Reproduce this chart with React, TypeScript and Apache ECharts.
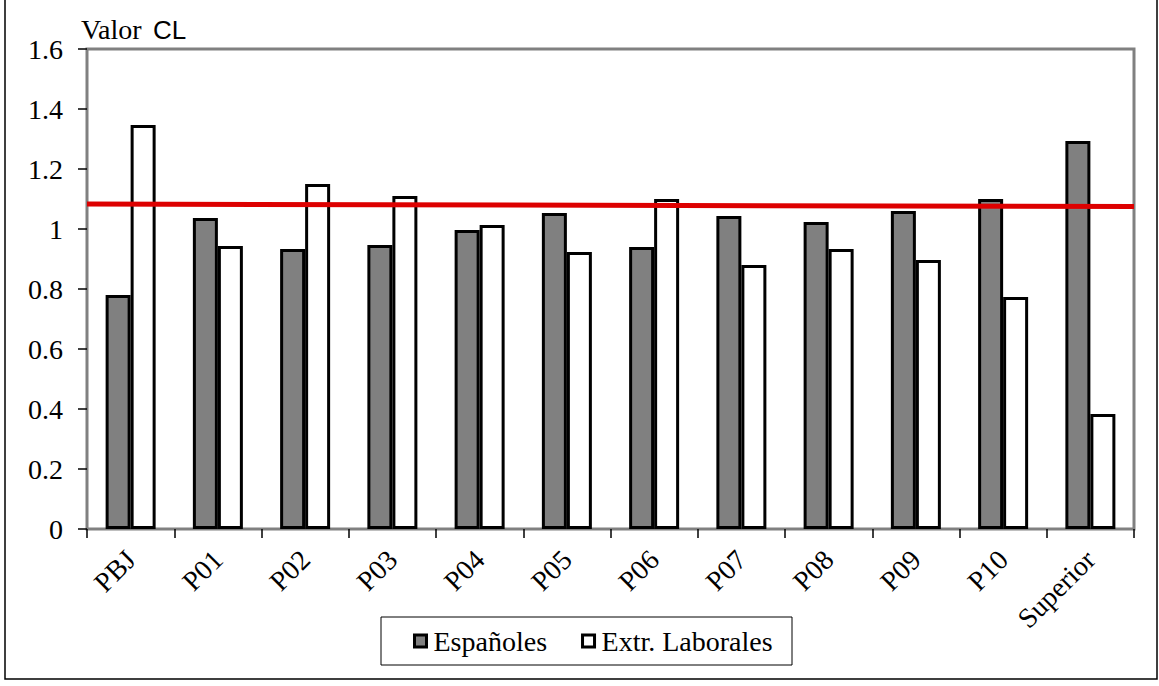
import React, { useEffect, useRef } from "react";
import * as echarts from "echarts";

const categories = ["PBJ", "P01", "P02", "P03", "P04", "P05", "P06", "P07", "P08", "P09", "P10", "Superior"];
const espanoles = [0.78, 1.037, 0.933, 0.947, 0.997, 1.053, 0.94, 1.043, 1.023, 1.06, 1.1, 1.293];
const extrLaborales = [1.347, 0.943, 1.15, 1.11, 1.013, 0.923, 1.1, 0.88, 0.933, 0.897, 0.773, 0.383];
const referenceLine = [[0, 1.083], [1, 1.075]];
const yTicks = { min: 0, max: 1.6, interval: 0.2 };

const SERIF = "Liberation Serif";

export default function App() {
  const ref = useRef<HTMLDivElement>(null);
  useEffect(() => {
    if (!ref.current) return;
    const chart = echarts.init(ref.current, undefined, { renderer: "svg" });
    chart.setOption({
      animation: false,
      backgroundColor: "#ffffff",
      grid: {
        left: 87,
        right: 25,
        top: 49,
        bottom: 157,
        show: true,
        borderColor: "#808080",
        borderWidth: 3,
        backgroundColor: "transparent",
      },
      legend: {
        left: 413,
        top: 627,
        padding: 0,
        itemWidth: 12,
        itemHeight: 12,
        itemGap: 34,
        icon: "rect",
        textStyle: { fontFamily: SERIF, fontSize: 28, color: "#000", padding: [0, 0, 0, 2] },
        data: [
          { name: "Españoles", itemStyle: { color: "#808080", borderColor: "#000", borderWidth: 3 } },
          { name: "Extr. Laborales", itemStyle: { color: "#ffffff", borderColor: "#000", borderWidth: 3 } },
        ],
      },
      xAxis: [
        {
          type: "category",
          data: categories,
          axisLine: { show: false },
          axisTick: { show: true, length: 9, lineStyle: { color: "#000", width: 1.5 } },
          axisLabel: {
            rotate: 45,
            fontFamily: SERIF,
            fontSize: 28,
            color: "#000",
            margin: 26,
            interval: 0,
          },
        },
        { type: "value", min: 0, max: 1, show: false },
      ],
      yAxis: {
        type: "value",
        min: yTicks.min,
        max: yTicks.max,
        interval: yTicks.interval,
        axisLine: { show: false },
        axisTick: { show: true, length: 9, lineStyle: { color: "#000", width: 1.5 } },
        splitLine: { show: false },
        axisLabel: {
          fontFamily: SERIF,
          fontSize: 28,
          color: "#000",
          margin: 24,
          formatter: (v: number) => String(Math.round(v * 10) / 10),
        },
      },
      series: [
        {
          name: "Españoles",
          type: "bar",
          data: espanoles,
          barWidth: 25,
          barGap: "0%",
          itemStyle: { color: "#808080", borderColor: "#000", borderWidth: 3 },
        },
        {
          name: "Extr. Laborales",
          type: "bar",
          data: extrLaborales,
          barWidth: 25,
          barGap: "0%",
          itemStyle: { color: "#ffffff", borderColor: "#000", borderWidth: 3 },
        },
        {
          name: "ref",
          type: "line",
          xAxisIndex: 1,
          data: referenceLine,
          symbol: "none",
          z: 10,
          lineStyle: { color: "#dd0000", width: 5 },
        },
      ],
      graphic: [
        {
          type: "rect",
          shape: { x: 5, y: -5, width: 1152, height: 684 },
          style: { fill: "none", stroke: "#000", lineWidth: 1.5 },
          silent: true,
        },
        {
          type: "rect",
          shape: { x: 381, y: 617, width: 411, height: 48 },
          style: { fill: "none", stroke: "#000", lineWidth: 1 },
          silent: true,
        },
        {
          type: "text",
          x: 81,
          y: 15,
          style: {
            text: "Valor",
            fontFamily: "Liberation Serif",
            fontSize: 28,
            fill: "#000",
          },
        },
        {
          type: "text",
          x: 153,
          y: 17,
          style: {
            text: "CL",
            fontFamily: "Liberation Sans",
            fontSize: 26,
            fill: "#000",
          },
        },
      ],
    });
    return () => chart.dispose();
  }, []);
  return (
    <div
      ref={ref}
      style={{ position: "fixed", left: 0, top: 0, width: 1159, height: 686 }}
    />
  );
}
